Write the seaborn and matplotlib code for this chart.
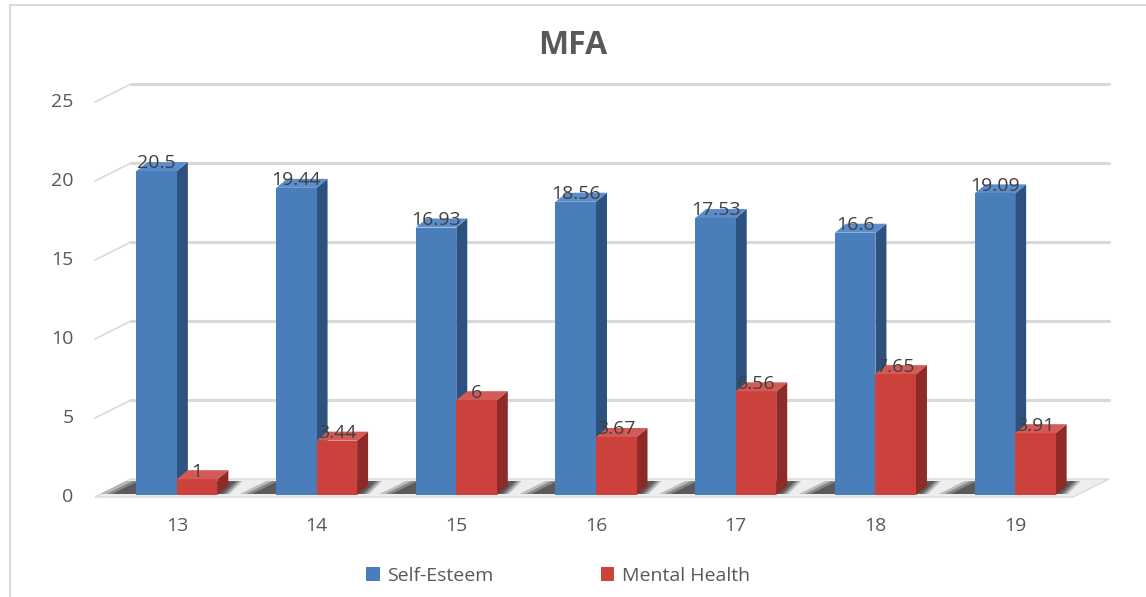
import matplotlib
matplotlib.use("Agg")
import matplotlib.pyplot as plt
import seaborn as sns
import pandas as pd
from matplotlib.patches import Polygon, Rectangle, Patch
from matplotlib.transforms import ScaledTranslation, IdentityTransform

# ---- data ----
ages = ["13", "14", "15", "16", "17", "18", "19"]
self_esteem = [20.5, 19.44, 16.93, 18.56, 17.53, 16.6, 19.09]
mental_health = [1, 3.44, 6, 3.67, 6.56, 7.65, 3.91]
series_names = ["Self-Esteem", "Mental Health"]
y_ticks = [0, 5, 10, 15, 20, 25]
title = "MFA"

df = pd.DataFrame({
    "Age": ages * 2,
    "Value": self_esteem + mental_health,
    "Series": [series_names[0]] * len(ages) + [series_names[1]] * len(ages),
})

front = {"Self-Esteem": "#4a7ebb", "Mental Health": "#cc413c"}
side = {"Self-Esteem": "#2d527f", "Mental Health": "#8e2b28"}
top = {"Self-Esteem": "#5b8ccc", "Mental Health": "#d35a55"}

sns.set_theme(style="white")
plt.rcParams["font.family"] = ["Open Sans", "DejaVu Sans"]

W, H = 1146, 597
fig = plt.figure(figsize=(W / 100, H / 100), dpi=100)
ax = fig.add_axes([107 / W, (H - 495) / H, 978 / W, 395 / H])

# outer chart border
fig.patches.append(Rectangle((10 / W, -0.05), 1.2, 1.05 - 5 / H, transform=fig.transFigure,
                             fill=False, edgecolor="#d9d9d9", linewidth=1.5, zorder=0))

sns.barplot(data=df, x="Age", y="Value", hue="Series", order=ages, hue_order=series_names,
            palette=front, width=0.58, dodge=True, gap=0, saturation=1, ax=ax,
            legend=False, zorder=3, linewidth=0, errorbar=None)

ax.set_xlim(-0.5, 6.5)
ax.set_ylim(0, 25)
for s in ax.spines.values():
    s.set_visible(False)
ax.set_xlabel("")
ax.set_ylabel("")
ax.set_yticks(y_ticks)
ax.tick_params(axis="y", length=0, pad=24, labelsize=14, labelcolor="#595959")
ax.tick_params(axis="x", length=0, pad=16, labelsize=14, labelcolor="#595959")
ax.grid(False)

# back wall gridlines (offset into depth)
wdx, wdy = 24, 16
wall = ax.transData + ScaledTranslation(wdx / 100, wdy / 100, fig.dpi_scale_trans)
to_disp = ax.transData
x0, x1 = ax.get_xlim()
for v in y_ticks:
    if v == 0:
        continue
    ax.plot([x0, x1], [v, v], color="#d9d9d9", linewidth=2.2, transform=wall, zorder=1,
            clip_on=False)
    p0 = to_disp.transform((x0, v))
    ax.add_line(plt.Line2D([p0[0] - 12, p0[0] + wdx], [p0[1] - 2, p0[1] + wdy],
                           color="#d9d9d9", linewidth=1.2, transform=IdentityTransform(),
                           zorder=1, clip_on=False))

# floor
f0 = to_disp.transform((x0, 0))
f1 = to_disp.transform((x1, 0))
floor = Polygon([[f0[0] - 12, f0[1] - 2], [f1[0] - 12, f1[1] - 2], [f1[0] + wdx, f1[1] + wdy],
                 [f0[0] + wdx, f0[1] + wdy]], closed=True, facecolor="#eeeeee",
                edgecolor="#d9d9d9", linewidth=1, transform=IdentityTransform(), zorder=1,
                clip_on=False)

bars = [p for p in ax.patches if isinstance(p, Rectangle) and p.get_height() > 0]
ax.add_patch(floor)

# 3D faces for bars
bdx, bdy = 11, 9
for i in range(len(ages)):
    pb = bars[i]
    pr = bars[i + len(ages)]
    a = to_disp.transform((pb.get_x(), 0))
    b = to_disp.transform((pr.get_x() + pr.get_width(), 0))
    for k, al in [(0, 0.25), (6, 0.35), (12, 0.45)]:
        sh = Polygon([[a[0] - 36 + k, a[1] + 1], [b[0] + 12 - k / 2, b[1] + 1],
                      [b[0] + bdx + 14 - k / 2, b[1] + 14], [a[0] - 10 + k, a[1] + 14]],
                     closed=True, facecolor="#262626", alpha=al, edgecolor="none",
                     transform=IdentityTransform(), zorder=2, clip_on=False)
        ax.add_patch(sh)

for idx, p in enumerate(bars):
    name = series_names[0] if idx < len(ages) else series_names[1]
    xl, w, h = p.get_x(), p.get_width(), p.get_height()
    bl = to_disp.transform((xl, 0))
    tr = to_disp.transform((xl + w, h))
    tl = to_disp.transform((xl, h))
    br = to_disp.transform((xl + w, 0))
    is_red = idx >= len(ages)
    side_poly = Polygon([br, tr, [tr[0] + bdx, tr[1] + bdy], [br[0] + bdx, br[1] + bdy]],
                        closed=True, facecolor=side[name], edgecolor="none",
                        transform=IdentityTransform(), zorder=3.4 if is_red else 2.5,
                        clip_on=False)
    top_poly = Polygon([tl, tr, [tr[0] + bdx, tr[1] + bdy], [tl[0] + bdx, tl[1] + bdy]],
                       closed=True, facecolor=top[name], edgecolor="none",
                       transform=IdentityTransform(), zorder=3.6 if is_red else 2.6,
                       clip_on=False)
    ax.add_patch(side_poly)
    ax.add_patch(top_poly)
    if is_red:
        p.set_zorder(3.5)
    ax.annotate(f"{h:g}", (xl + w / 2, h), xytext=(0, -1), textcoords="offset points",
                ha="center", va="bottom", fontsize=14, color="#404040", zorder=6)

fig.text(0.5, 1 - 46 / H, title, ha="center", va="center", fontsize=23, fontweight="bold",
         color="#595959")

handles = [Patch(facecolor=front[n], edgecolor="none") for n in series_names]
fig.legend(handles, series_names, loc="center", bbox_to_anchor=(0.487, 1 - 576 / H), ncol=2,
           frameon=False, fontsize=14, labelcolor="#595959", handlelength=0.7, handleheight=0.7,
           columnspacing=5.5, handletextpad=0.4)

fig.savefig("out.png", dpi=100)
